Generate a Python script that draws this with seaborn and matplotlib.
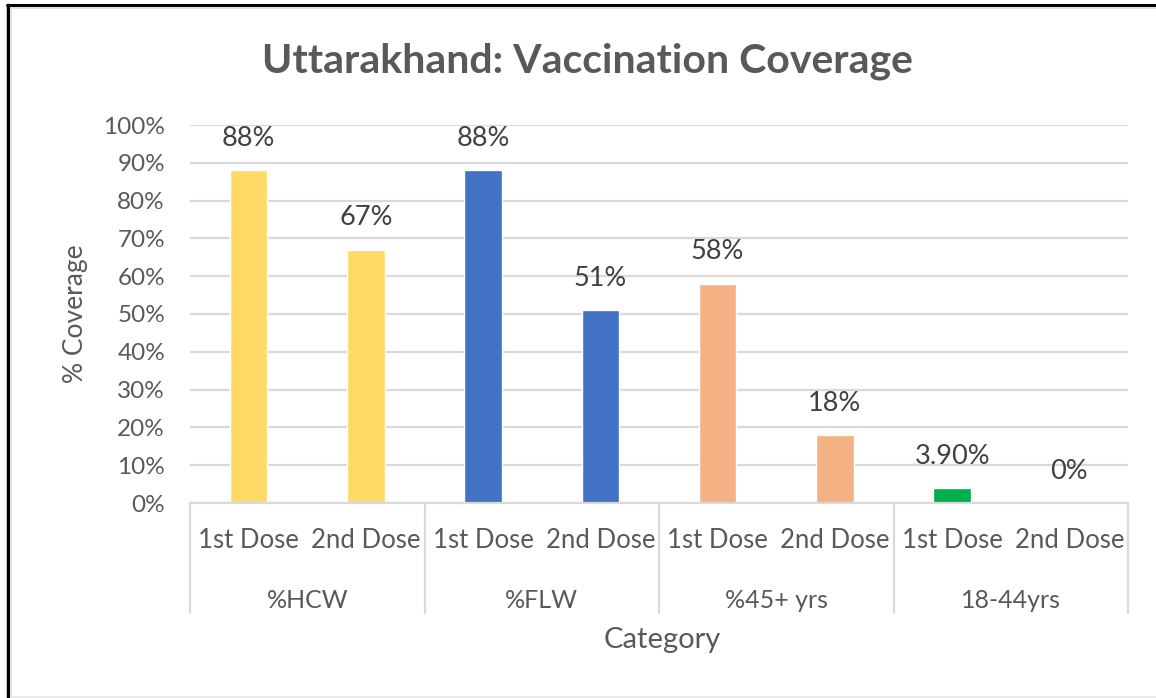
import matplotlib
matplotlib.use("Agg")
import matplotlib.pyplot as plt
import matplotlib.transforms as mtransforms
from matplotlib.lines import Line2D
import seaborn as sns
import pandas as pd

categories = ["%HCW", "%FLW", "%45+ yrs", "18-44yrs"]
doses = ["1st Dose", "2nd Dose"]
values = [88, 67, 88, 51, 58, 18, 3.9, 0]
value_labels = ["88%", "67%", "88%", "51%", "58%", "18%", "3.90%", "0%"]
group_colors = ["#FFD966", "#4472C4", "#F4B183", "#00B050"]
title = "Uttarakhand: Vaccination Coverage"
y_label = "% Coverage"
x_label = "Category"
y_ticks = [0, 10, 20, 30, 40, 50, 60, 70, 80, 90, 100]

sns.set_theme(style="white")
plt.rcParams["font.family"] = ["Lato", "DejaVu Sans"]

slots, groups = [], []
for c in categories:
    for d in doses:
        slots.append(f"{c}|{d}")
        groups.append(c)
df = pd.DataFrame({"slot": slots, "group": groups, "value": values})

W, H = 1156, 698
fig = plt.figure(figsize=(W / 100, H / 100), dpi=100)
ax = fig.add_axes([190 / W, 1 - 503 / H, (1128 - 190) / W, (503 - 125) / H])

sns.barplot(data=df, x="slot", y="value", hue="group", order=slots,
            hue_order=categories, palette=dict(zip(categories, group_colors)),
            dodge=False, width=0.32, legend=False, ax=ax, saturation=1)

txt = "#595959"
ax.set_xlim(-0.5, len(slots) - 0.5)
ax.set_ylim(0, 100)
ax.set_yticks(y_ticks)
ax.set_yticklabels([f"{t}%" for t in y_ticks], color=txt, fontsize=17.5)
ax.tick_params(axis="y", length=0, pad=18)
ax.yaxis.grid(True, color="#D9D9D9", linewidth=1.6)
ax.set_axisbelow(True)
for s in ["top", "right", "left"]:
    ax.spines[s].set_visible(False)
ax.spines["bottom"].set_color("#D9D9D9")
ax.spines["bottom"].set_linewidth(1.6)

ax.set_xticks(range(len(slots)))
ax.set_xticklabels([d for c in categories for d in doses], color=txt, fontsize=18.5)
ax.tick_params(axis="x", length=0, pad=18)
ax.set_xlabel("")
ax.set_ylabel(y_label, color=txt, fontsize=19)
ax.yaxis.set_label_coords((88 - 190) / 938, 0.5)

for i, (v, lab) in enumerate(zip(values, value_labels)):
    ax.annotate(lab, xy=(i, v), xytext=(0, 14), textcoords="offset points",
                ha="center", va="bottom", fontsize=19.5, color="#404040")

trans = mtransforms.blended_transform_factory(ax.transData, ax.transAxes)
sep_bottom = -(613 - 503) / 378
for k in range(len(categories) + 1):
    x = k * len(doses) - 0.5
    ax.plot([x, x], [0, sep_bottom], transform=trans, color="#D9D9D9",
            linewidth=1.6, clip_on=False)
for k, c in enumerate(categories):
    xc = k * len(doses) + (len(doses) - 1) / 2
    ax.text(xc, -(600 - 503) / 378, c, transform=trans, ha="center",
            va="center", fontsize=18, color=txt)

fig.text(662 / W, 1 - 640 / H, x_label, ha="center", va="center",
         fontsize=21, color=txt)
fig.text(587 / W, 1 - 61 / H, title, ha="center", va="center",
         fontsize=29.5, fontweight="bold", color=txt)

# frame around the image
fig.add_artist(Line2D([7 / W, 1], [1 - 5 / H, 1 - 5 / H], color="black", linewidth=2.2))
fig.add_artist(Line2D([8 / W, 8 / W], [0, 1 - 5 / H], color="black", linewidth=2.5))
fig.add_artist(Line2D([11 / W, 1], [1 - 8 / H, 1 - 8 / H], color="#E0E0E0", linewidth=1.5))
fig.add_artist(Line2D([11 / W, 11 / W], [0, 1 - 8 / H], color="#E0E0E0", linewidth=1.5))
fig.add_artist(Line2D([11 / W, 1], [1 / H, 1 / H], color="#E6E6E6", linewidth=1.2))

fig.savefig("out.png", dpi=100)
